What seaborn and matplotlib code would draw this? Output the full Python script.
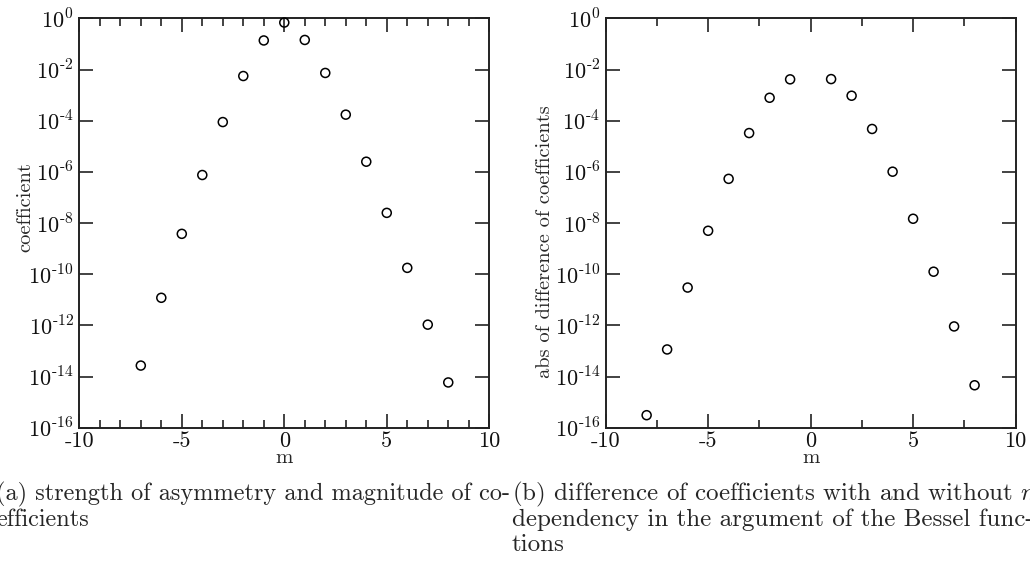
import numpy as np
import pandas as pd
import matplotlib
matplotlib.use("Agg")
import matplotlib.pyplot as plt
import seaborn as sns
from matplotlib.ticker import FixedLocator, MultipleLocator

# log10 of the coefficient magnitudes, per azimuthal order m
m_a = [-7, -6, -5, -4, -3, -2, -1, 0, 1, 2, 3, 4, 5, 6, 7, 8]
log_coef_a = [-13.57, -10.92, -8.42, -6.12, -4.05, -2.25, -0.86, -0.16,
              -0.84, -2.13, -3.76, -5.60, -7.60, -9.75, -11.97, -14.23]

# log10 of |difference| of coefficients with / without m dependency
m_b = [-8, -7, -6, -5, -4, -3, -2, -1, 1, 2, 3, 4, 5, 6, 7, 8]
log_coef_b = [-15.51, -12.94, -10.52, -8.30, -6.27, -4.48, -3.10, -2.38,
              -2.37, -3.02, -4.32, -5.99, -7.83, -9.90, -12.04, -14.34]

x_ticks = [-10, -5, 0, 5, 10]
x_tick_labels = ["-10", "-5", "0", "5", "10"]
y_exponents = [-16, -14, -12, -10, -8, -6, -4, -2, 0]

ylabel_a = "coefficient"
ylabel_b = "abs of difference of coefficients"
caption_a = ["(a) strength of asymmetry and magnitude of co-",
             "efficients"]
caption_b = ["(b) difference of coefficients with and without $m$",
             "dependency in the argument of the Bessel func-",
             "tions"]

sns.set_theme(style="ticks")
plt.rcParams["font.family"] = ["cmr10", "DejaVu Serif"]
plt.rcParams["mathtext.fontset"] = "cm"
plt.rcParams["axes.formatter.use_mathtext"] = True
plt.rcParams["axes.unicode_minus"] = False

W, H = 1030, 570
fig = plt.figure(figsize=(W / 100, H / 100), dpi=100)
ax_a = fig.add_axes([0.077, 0.2496, 0.398, 0.718])
ax_b = fig.add_axes([0.588, 0.2496, 0.398, 0.718])

df_a = pd.DataFrame({"m": m_a, "c": [10.0 ** v for v in log_coef_a]})
df_b = pd.DataFrame({"m": m_b, "c": [10.0 ** v for v in log_coef_b]})


def power_label(e):
    # exponent written with a plain hyphen rather than a math minus
    if e < 0:
        return r"$10^{\text{-}%d}$" % (-e)
    return r"$10^{%d}$" % e


def style_axes(ax, minor_step, ylabel, ylab_xy):
    ax.set_yscale("log")
    ax.set_xlim(-10, 10)
    ax.set_ylim(1e-16, 1e0)
    ax.xaxis.set_major_locator(FixedLocator(x_ticks))
    ax.set_xticklabels(x_tick_labels)
    ax.xaxis.set_minor_locator(MultipleLocator(minor_step))
    ax.yaxis.set_major_locator(FixedLocator([10.0 ** e for e in y_exponents]))
    ax.yaxis.set_minor_locator(FixedLocator([]))
    ax.set_yticklabels([power_label(e) for e in y_exponents])
    for side in ax.spines.values():
        side.set_visible(True)
        side.set_linewidth(1.4)
        side.set_color("#222222")
    ax.tick_params(which="both", direction="in", top=True, right=True,
                   color="#222222", width=1.2, labelsize=16,
                   labelcolor="#111111")
    ax.tick_params(which="major", length=10)
    ax.tick_params(which="minor", length=6)
    ax.tick_params(axis="x", which="major", pad=3)
    ax.tick_params(axis="y", which="major", pad=4)
    ax.set_xlabel("m", fontsize=15)
    ax.xaxis.label.set_va("center")
    ax.xaxis.set_label_coords(0.5, -0.074)
    ax.set_ylabel(ylabel, fontsize=14.7)
    ax.yaxis.label.set_va("center")
    ax.yaxis.set_label_coords(*ylab_xy)
    ax.grid(False)


panels = [(ax_a, df_a, 1, ylabel_a, (-0.132, 0.539)),
          (ax_b, df_b, 2.5, ylabel_b, (-0.148, 0.454))]
for ax, df, step, lab, lab_xy in panels:
    sns.scatterplot(data=df, x="m", y="c", ax=ax, marker="o", s=42,
                    facecolor="none", edgecolor="black", linewidth=1.1,
                    legend=False, zorder=3, clip_on=False)
    style_axes(ax, step, lab, lab_xy)

# figure captions below each panel, one text per line
line_gap = 25.7
for x0, lines, size in [(-4, caption_a, 17.5), (512, caption_b, 18)]:
    for i, line in enumerate(lines):
        y_px = 494 + i * line_gap
        fig.text(x0 / W, 1 - y_px / H, line, fontsize=size,
                 ha="left", va="center")

fig.savefig("out.png", dpi=100)
